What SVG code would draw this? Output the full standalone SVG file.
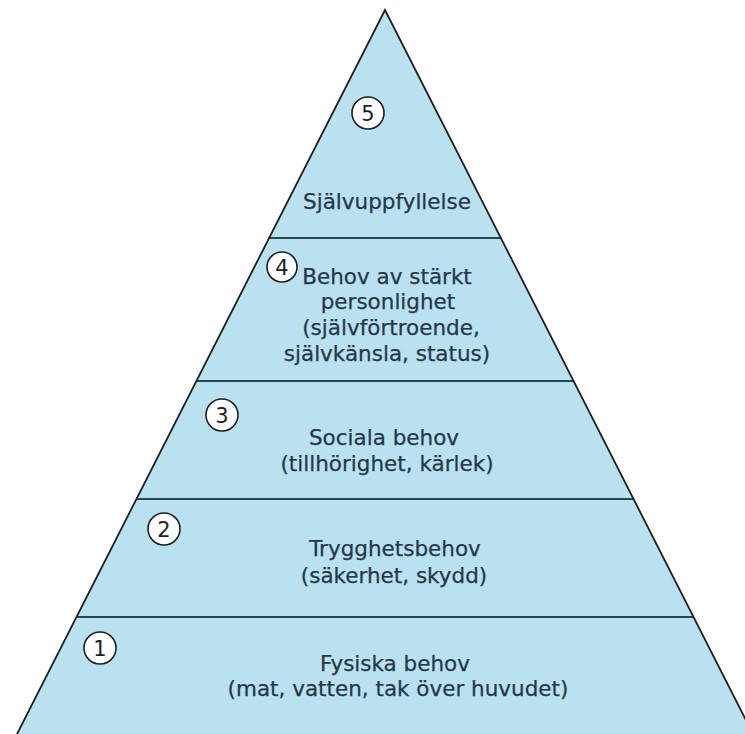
<svg xmlns="http://www.w3.org/2000/svg" width="745" height="734" viewBox="0 0 745 734">
  <style>
    .band { fill: #b9e1ef; stroke: none; }
    .div { stroke: #2b4657; stroke-width: 2; fill: none; }
    .edge { stroke: #1e1e1e; stroke-width: 1.8; fill: none; }
    .lbl { font-family: "DejaVu Sans", Verdana, sans-serif; font-size: 21.5px; fill: #25384a; text-anchor: middle; stroke: #25384a; stroke-width: 0.25; }
    .num circle { fill: #ffffff; stroke: #1e1e1e; stroke-width: 1.6; }
    .num text { font-family: "DejaVu Sans", Verdana, sans-serif; font-size: 21px; fill: #1e1e1e; text-anchor: middle; }
  </style>
  <rect width="745" height="734" fill="#ffffff"/>

  <g id="level5">
    <polygon class="band" points="385,10 500.8,238 269.2,238"/>
    <text class="lbl" x="387" y="209">Självuppfyllelse</text>
    <g class="num"><circle cx="368" cy="113" r="16"/><text x="368" y="120.5">5</text></g>
  </g>

  <g id="level4">
    <polygon class="band" points="269.2,238 500.8,238 573.5,381 196.5,381"/>
    <text class="lbl" x="387" y="284">Behov av stärkt</text>
    <text class="lbl" x="388" y="309">personlighet</text>
    <text class="lbl" x="391" y="335">(självförtroende,</text>
    <text class="lbl" x="387" y="361">självkänsla, status)</text>
    <g class="num"><circle cx="282" cy="267" r="15"/><text x="282" y="274.5">4</text></g>
  </g>

  <g id="level3">
    <polygon class="band" points="196.5,381 573.5,381 633.4,499 136.6,499"/>
    <text class="lbl" x="384" y="445">Sociala behov</text>
    <text class="lbl" x="387" y="471">(tillhörighet, kärlek)</text>
    <g class="num"><circle cx="222" cy="415" r="16"/><text x="222" y="422.5">3</text></g>
  </g>

  <g id="level2">
    <polygon class="band" points="136.6,499 633.4,499 693.4,617 76.6,617"/>
    <text class="lbl" x="395" y="556">Trygghetsbehov</text>
    <text class="lbl" x="394" y="583">(säkerhet, skydd)</text>
    <g class="num"><circle cx="164" cy="529" r="16"/><text x="164" y="536.5">2</text></g>
  </g>

  <g id="level1">
    <polygon class="band" points="76.6,617 693.4,617 755,738 15,738"/>
    <text class="lbl" x="395" y="671">Fysiska behov</text>
    <text class="lbl" x="398" y="696">(mat, vatten, tak över huvudet)</text>
    <g class="num"><circle cx="100" cy="648" r="16"/><text x="100" y="655.5">1</text></g>
  </g>

  <g id="outline">
    <line class="div" x1="269.2" y1="238" x2="500.8" y2="238"/>
    <line class="div" x1="196.5" y1="381" x2="573.5" y2="381"/>
    <line class="div" x1="136.6" y1="499" x2="633.4" y2="499"/>
    <line class="div" x1="76.6" y1="617" x2="693.4" y2="617"/>
    <polyline class="edge" points="15,738 385,10 755,738"/>
  </g>
</svg>
